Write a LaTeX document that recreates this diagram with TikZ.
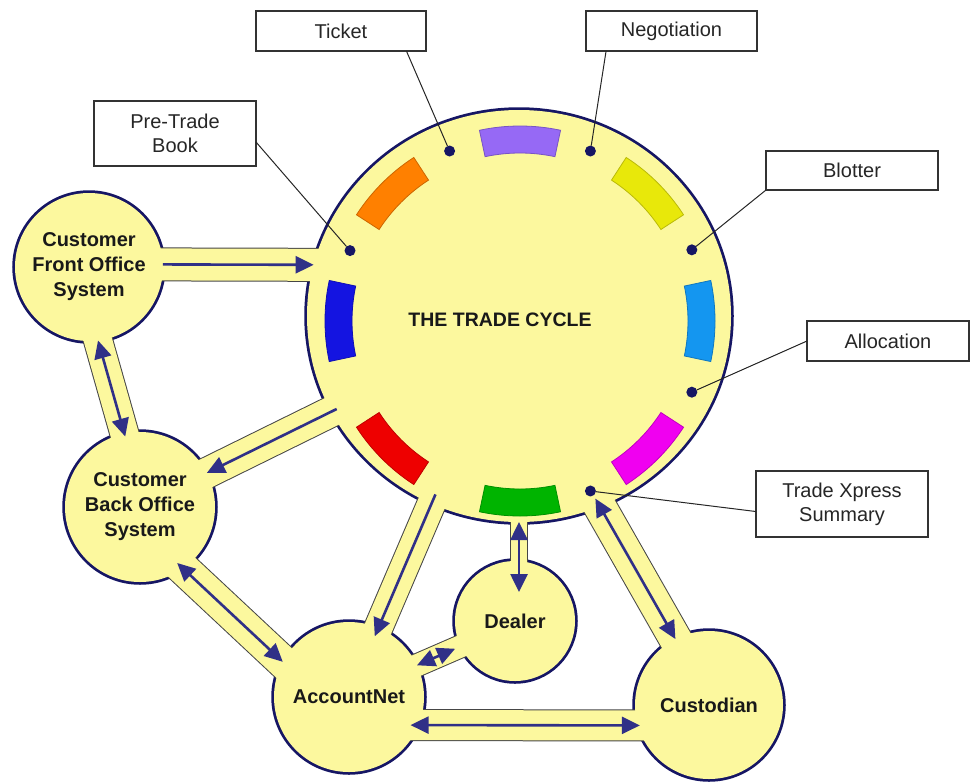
\documentclass[tikz,border=0pt]{standalone}
\usepackage{fontspec}
\setmainfont{Liberation Sans}
\usetikzlibrary{arrows.meta,shapes.geometric,calc}
\pgfdeclarelayer{outl}
\pgfdeclarelayer{yfill}
\pgfsetlayers{outl,yfill,main}
\definecolor{ylw}{RGB}{252,248,158}
\definecolor{navyc}{RGB}{22,22,100}
\definecolor{bandc}{RGB}{70,70,70}
\definecolor{arrc}{RGB}{48,48,135}
\definecolor{segPurple}{RGB}{150,105,245}
\definecolor{segYellow}{RGB}{232,232,10}
\definecolor{segCyan}{RGB}{20,150,240}
\definecolor{segMagenta}{RGB}{240,0,240}
\definecolor{segGreen}{RGB}{0,180,0}
\definecolor{segRed}{RGB}{238,0,0}
\definecolor{segBlue}{RGB}{20,20,225}
\definecolor{segOrange}{RGB}{255,128,0}
\newcommand{\bandseg}[4]{%
  \begin{pgfonlayer}{outl}\draw[bandc, line width=#2, shorten <=-22pt, shorten >=-22pt] (#3) -- (#4);\end{pgfonlayer}%
  \begin{pgfonlayer}{yfill}\draw[ylw, line width=#1, shorten <=-22pt, shorten >=-22pt] (#3) -- (#4);\end{pgfonlayer}}
\begin{document}
\begin{tikzpicture}[x=1pt,y=-1pt,
  sys/.style={circle, inner sep=0pt, outer sep=0pt, align=center, text=black!90,
    font=\bfseries\fontsize{20}{25}\selectfont},
  ttlstyle/.style={font=\bfseries\fontsize{19.5}{22}\selectfont, text=black!90},
  lab/.style={draw=black!80, line width=1.2pt, fill=white, inner sep=0pt, outer sep=0pt,
    align=center, text=black!85, font=\fontsize{20}{24}\selectfont},
  anchordot/.style={circle, fill=navyc, minimum size=11pt, inner sep=0pt, outer sep=0pt},
  leader/.style={draw=black!85, line width=1pt},
  circl/.style={draw=navyc, line width=5.5pt},
  arr/.style={draw=arrc, line width=2.6pt, -{Triangle[length=18pt,width=17pt]}},
  darr/.style={draw=arrc, line width=2.6pt, {Triangle[length=18pt,width=17pt]}-{Triangle[length=18pt,width=17pt]}},
  seg/.style={line width=0.8pt}
]
\useasboundingbox (0,0) rectangle (971,782);

% main nodes
\node[ellipse, minimum width=424pt, minimum height=412pt, inner sep=0pt, outer sep=0pt] (main) at (519,316) {};
\coordinate (fc) at (520,321);
\node[ttlstyle] (ttl) at (500,320) {THE TRADE CYCLE};
\node[sys, minimum size=148pt] (cfos) at (89,267) {Customer\\Front Office\\System};
\node[sys, minimum size=150pt] (cbos) at (140,507) {Customer\\Back Office\\System};
\node[sys, minimum size=150pt] (acnet) at (349,697) {AccountNet};
\node[sys, minimum size=120pt] (dealer) at (515,621) {Dealer};
\node[sys, minimum size=148pt] (cust) at (709,705) {Custodian};

% circle outlines and fills
\begin{pgfonlayer}{outl}
  \foreach \n/\r in {cfos/74,cbos/75,acnet/75,dealer/60,cust/74}
    \draw[circl] (\n.center) circle[radius=\r pt];
  \draw[circl] (main.center) ellipse[x radius=212pt, y radius=206pt];
\end{pgfonlayer}
\begin{pgfonlayer}{yfill}
  \foreach \n/\r in {cfos/74,cbos/75,acnet/75,dealer/60,cust/74}
    \fill[ylw] (\n.center) circle[radius=\r pt];
  \fill[ylw] (main.center) ellipse[x radius=212pt, y radius=206pt];
\end{pgfonlayer}

% bands
\bandseg{32pt}{34pt}{cfos.2}{main.166}
\bandseg{28pt}{30pt}{cfos.-83}{cbos.102}
\bandseg{30pt}{32pt}{main.-153}{cbos.27.5}
\bandseg{32pt}{34pt}{cbos.-55}{acnet.152}
\bandseg{28pt}{30pt}{main.-115}{acnet.67}
\bandseg{16pt}{18pt}{main.-90}{main.-90 |- dealer.center}
\bandseg{22pt}{24pt}{acnet.25}{dealer.205}
\bandseg{32pt}{34pt}{main.-67}{cust.117.6}
\bandseg{30pt}{32pt}{acnet.-22}{cust.196.5}

% coloured segments and dots
\begin{scope}[shift={(fc)}, y=1pt]
  \foreach \a/\c in {90/segPurple,45/segYellow,0/segCyan,-45/segMagenta,-90/segGreen,-135/segRed,180/segBlue,135/segOrange}
    \filldraw[seg, fill=\c, draw=\c!80!black]
      (\a-12:168) arc[start angle=\a-12, end angle=\a+12, radius=168]
      -- (\a+12:195) arc[start angle=\a+12, end angle=\a-12, radius=195] -- cycle;
  \node[anchordot] (dPre) at (157.5:184) {};
  \node[anchordot] (dTk) at (112.5:184) {};
  \node[anchordot] (dNg) at (67.5:184) {};
  \node[anchordot] (dBl) at (22.5:186) {};
  \node[anchordot] (dAl) at (-22.5:186) {};
  \node[anchordot] (dTx) at (-67.5:184) {};
\end{scope}

% arrows
\draw[arr] (cfos.2) -- (main.166);
\draw[darr, shorten >=-3pt] (cfos.-83) -- (cbos.102);
\draw[arr, shorten <=-6pt] (main.-153) -- (cbos.27.5);
\draw[darr, shorten <=-8pt] (cbos.-55) -- (acnet.152);
\draw[arr, shorten <=-10pt, shorten >=-9pt] (main.-115) -- (acnet.67);
\draw[darr, shorten >=29pt] (main.-90) -- (main.-90 |- dealer.center);
\draw[darr, shorten >=6pt] (acnet.25) -- (dealer.205);
\draw[darr, shorten <=-9pt] (main.-67) -- (cust.117.6);
\draw[darr, shorten <=-8pt, shorten >=-2pt] (acnet.-22) -- (cust.196.5);

% labels
\node[lab, minimum width=162pt, minimum height=65pt] (ptb) at (175,133.5) {Pre-Trade\\Book};
\node[lab, minimum width=170pt, minimum height=40pt] (tkt) at (341,31) {Ticket};
\node[lab, minimum width=171pt, minimum height=40pt] (neg) at (671.5,31) {Negotiation};
\node[lab, minimum width=172pt, minimum height=39pt] (blt) at (852,170.5) {Blotter};
\node[lab, minimum width=162pt, minimum height=40pt] (alc) at (888,341) {Allocation};
\node[lab, minimum width=172pt, minimum height=66pt] (txs) at (842,504) {Trade Xpress\\Summary};

% leader lines
\draw[leader] (ptb.-6) -- (dPre);
\draw[leader] (tkt.-17) -- (dTk);
\draw[leader] (neg.-163) -- (dNg);
\draw[leader] (blt.south west) -- (dBl);
\draw[leader] (alc.west) -- (dAl);
\draw[leader] (txs.185) -- (dTx);
\end{tikzpicture}
\end{document}
